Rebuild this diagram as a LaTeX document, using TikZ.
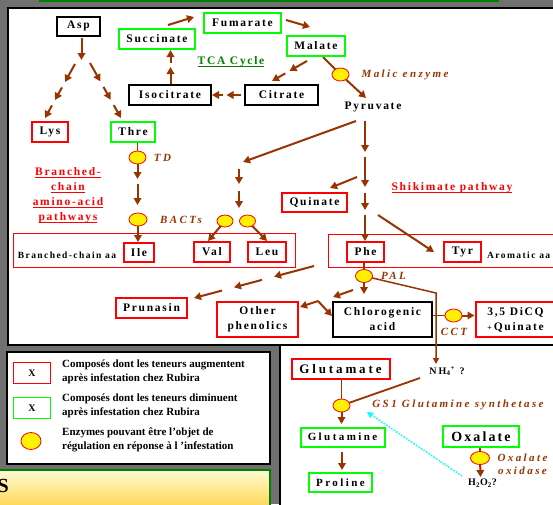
\documentclass[tikz,border=0pt]{standalone}
\usepackage{fontspec}
\setmainfont{Liberation Serif}
\newfontfamily\lsA[LetterSpace=15]{Liberation Serif}
\newfontfamily\lsB[LetterSpace=22]{Liberation Serif}
\usetikzlibrary{arrows.meta,shapes.geometric,calc}
\pgfdeclarelayer{back}
\pgfdeclarelayer{mid}
\pgfsetlayers{back,mid,main}
\definecolor{brn}{HTML}{993300}
\definecolor{pred}{HTML}{FF0000}
\definecolor{pgreen}{HTML}{00FF00}
\definecolor{dgreen}{HTML}{008000}
\definecolor{bgc}{RGB}{112,112,112}
\definecolor{ytop}{HTML}{FFFBD2}
\definecolor{ybot}{HTML}{FFC82A}
\definecolor{cyn}{HTML}{00FFFF}
\newcommand\myul[1]{\setbox0\hbox{#1}\rlap{\rule[-2.4pt]{\wd0}{1.2pt}}\box0}
\newcommand\multiarrow[4]{%
  \foreach \k in {1,...,#3}{%
    \pgfmathsetmacro\mafrA{(\k-1)/#3+(\k>1)*#4}%
    \pgfmathsetmacro\mafrB{\k/#3}%
    \draw[arr] ($(#1)!\mafrA!(#2)$) -- ($(#1)!\mafrB!(#2)$);}}
\begin{document}
\begin{tikzpicture}[x=1pt,y=-1pt,
  box/.style={draw, line width=2pt, fill=white, inner sep=0pt, minimum height=20pt, align=center,
    font=\lsA\bfseries\fontsize{11.5}{15}\selectfont},
  rbox/.style={box, draw=pred},
  gbox/.style={box, draw=pgreen},
  kbox/.style={box, draw=black},
  enz/.style={ellipse, draw=pred, fill=yellow, line width=0.8pt, minimum width=17pt, minimum height=13pt, inner sep=0pt},
  elab/.style={text=brn, inner sep=0pt, align=center, font=\lsB\bfseries\itshape\fontsize{11}{12.5}\selectfont},
  arr/.style={draw=brn, line width=2pt, -{Triangle[length=7pt,width=7.5pt]}},
  ln/.style={draw=brn, line width=1.8pt},
  cont/.style={draw=pred, line width=1pt},
  small/.style={inner sep=0pt, font=\lsA\bfseries\fontsize{9.5}{11}\selectfont},
  plain/.style={inner sep=0pt, font=\lsA\bfseries\fontsize{11.5}{14}\selectfont},
  hdr/.style={inner sep=0pt, align=center, font=\lsA\bfseries\fontsize{11.5}{15}\selectfont},
  leg/.style={inner sep=0pt, align=left, anchor=west, font=\bfseries\fontsize{11}{14}\selectfont},
  legbox/.style={line width=1.5pt, minimum width=37pt, minimum height=21pt, inner sep=0pt, fill=white, font=\bfseries\fontsize{10}{10}\selectfont}
]
\useasboundingbox (0,0) rectangle (553,504);
\begin{pgfonlayer}{back}
\fill[bgc] (0,0) rectangle (553,504);
\draw[dgreen,line width=1.5pt,fill=bgc!80!white] (40,-10) rectangle (498,1);
\draw[line width=1.5pt,fill=white] (8,8) rectangle (570,345);
\draw[line width=1.5pt,fill=white] (280,345) rectangle (570,520);
\draw[line width=1.2pt,fill=white] (7,352) rectangle (270,464);
\shade[top color=ytop,bottom color=ybot] (-5,470) rectangle (270,520);
\draw[dgreen,line width=1.5pt] (-5,470) rectangle (270,520);
\end{pgfonlayer}

% ---------- nodes ----------
\node[kbox,minimum width=43pt,minimum height=19pt] (asp) at (78.5,26) {Asp};
\node[gbox,minimum width=76pt] (succ) at (157,39) {Succinate};
\node[gbox,minimum width=77pt] (fum) at (242.5,23) {Fumarate};
\node[gbox,minimum width=58pt] (mal) at (316,46) {Malate};
\node[kbox,minimum width=82pt] (iso) at (170,95) {Isocitrate};
\node[kbox,minimum width=73pt] (cit) at (281.5,95) {Citrate};
\node[hdr,text=dgreen] (tca) at (231,62) {\myul{TCA Cycle}};
\node[plain] (pyr) at (373,107) {Pyruvate};
\node[enz] (me) at (340.5,74.5) {};
\node[elab] (mel) at (405,75) {Malic enzyme};

\node[rbox,minimum width=36pt] (lys) at (50,132) {Lys};
\node[gbox,minimum width=44pt] (thre) at (133,132) {Thre};
\node[hdr,text=pred] (bcp) at (68,195.5) {\myul{Branched-}\\\myul{chain}\\\myul{amino-acid}\\\myul{pathways}};
\node[enz] (td) at (137.5,157.5) {};
\node[elab] (tdl) at (162.5,157.5) {TD};
\node[enz,minimum width=18pt] (bact) at (138,219.5) {};
\node[elab] (bactl) at (181,220) {BACTs};
\node[enz,minimum width=16pt,minimum height=12pt] (ev) at (225,221) {};
\node[enz,minimum width=16pt,minimum height=12pt] (el) at (247.5,221) {};

\node[small] (bca) at (67,255) {Branched-chain aa};
\node[rbox,minimum width=30pt,minimum height=19pt] (ile) at (139,252.5) {Ile};
\node[rbox,minimum width=36pt] (val) at (212,252) {Val};
\node[rbox,minimum width=38pt] (leu) at (267,252) {Leu};
\node[rbox,minimum width=65pt,minimum height=19pt] (qui) at (314.5,202) {Quinate};
\node[hdr,text=pred] (shik) at (452,188) {\myul{Shikimate pathway}};
\node[rbox,minimum width=37pt] (phe) at (365.5,252) {Phe};
\node[rbox,minimum width=37pt] (tyr) at (462.5,252) {Tyr};
\node[small,anchor=west] (aro) at (487,255) {Aromatic aa};

\node[enz] (pal) at (364,276) {};
\node[elab] (pall) at (393.5,276) {PAL};
\node[rbox,minimum width=71pt] (pru) at (151.5,308) {Prunasin};
\node[rbox,minimum width=81pt,minimum height=35pt] (oth) at (257.5,319.5) {Other\\phenolics};
\node[kbox,minimum width=99pt,minimum height=35pt] (chl) at (382.5,319.5) {Chlorogenic\\acid};
\node[enz] (cct) at (453.5,315.5) {};
\node[elab] (cctl) at (454,332) {CCT};
\node[rbox,minimum width=80pt,minimum height=35pt] (dicq) at (515.5,319.5) {3,5 DiCQ\\{\fontsize{8}{8}\selectfont +}\,Quinate};

% lower right panel
\node[rbox,minimum width=98pt,font=\lsB\bfseries\fontsize{13}{15}\selectfont] (glu) at (340.5,369) {Glutamate};
\node[small,font=\lsB\bfseries\fontsize{10}{11}\selectfont] (nh) at (447,371) {NH\textsubscript{4}\textsuperscript{+} ?};
\node[enz] (gs) at (341.5,405.5) {};
\node[elab] (gsl) at (458,405) {GS1 Glutamine synthetase};
\node[gbox,minimum width=84pt,minimum height=19pt,font=\lsB\bfseries\fontsize{11}{13}\selectfont] (gln) at (342.5,437) {Glutamine};
\node[gbox,minimum width=63pt,minimum height=19pt,font=\lsB\bfseries\fontsize{11}{13}\selectfont] (pro) at (340.5,482.5) {Proline};
\node[gbox,minimum width=76pt,minimum height=21pt,font=\lsA\bfseries\fontsize{14}{16}\selectfont] (oxa) at (481,436.5) {Oxalate};
\node[enz,minimum width=19pt] (ox) at (480,458) {};
\node[elab] (oxl) at (522.5,464) {Oxalate\\oxidase};
\node[small,font=\lsB\bfseries\fontsize{10}{11}\selectfont] (h2o2) at (482.5,483) {H\textsubscript{2}O\textsubscript{2}?};

% legend
\node[legbox,draw=pred] (lr) at (32,373) {X};
\node[legbox,draw=pgreen] (lg) at (32,408) {X};
\node[enz,minimum width=20pt,minimum height=17pt] (lo) at (31,441) {};
\node[leg] (lt1) at (62,371.5) {Composés dont les teneurs augmentent\\après infestation chez Rubira};
\node[leg] (lt2) at (62,405.5) {Composés dont les teneurs diminuent\\après infestation chez Rubira};
\node[leg] (lt3) at (62,439.5) {Enzymes pouvant être l’objet de\\régulation en réponse à l ’infestation};
\node[inner sep=0pt,anchor=east,font=\bfseries\fontsize{20}{20}\selectfont] (ss) at (9,486) {S};

% ---------- coordinates ----------
\coordinate (t1a) at (168,25);  \coordinate (t1b) at (194,17);
\coordinate (t2a) at (286,20);  \coordinate (t2b) at (310,27);
\coordinate (m1) at (307,61);   \coordinate (m2) at (272,81);
\coordinate (c1) at (241,95);   \coordinate (c2) at (212,95);
\coordinate (i1) at (170.5,84); \coordinate (i2) at (170.5,50);
\coordinate (mst) at (323,57);  \coordinate (mend) at (366,98);
\coordinate (a1) at (81.5,38);  \coordinate (a2) at (81.5,60);
\coordinate (l1) at (75,64);    \coordinate (l2) at (45,118);
\coordinate (r1) at (90,63);    \coordinate (r2) at (121,118);
\coordinate (tdA) at (137.5,179); \coordinate (tdB) at (137.5,184); \coordinate (tdC) at (137.5,205);
\coordinate (p1) at (356,121);  \coordinate (p2) at (243,162);
\coordinate (p3) at (239,169);  \coordinate (p4) at (239,184);
\coordinate (p5) at (239,191);  \coordinate (p6) at (239,208);
\coordinate (vE) at (208,241);  \coordinate (lE) at (267,241);
\coordinate (d0) at (365,121);  \coordinate (d1) at (365,152);
\coordinate (d2) at (365,157);  \coordinate (d3) at (365,187);
\coordinate (d4) at (365,193);  \coordinate (d5) at (365,210);
\coordinate (d6) at (365,215);
\coordinate (q1) at (357,177);  \coordinate (q2) at (330,188);
\coordinate (y1) at (378,215);  \coordinate (y2) at (434,252);
\coordinate (pd) at (364,294);
\coordinate (nbend) at (436,293); \coordinate (nend) at (436,364);
\coordinate (o1) at (353,290);  \coordinate (o2) at (333,297);
\coordinate (b0) at (318,301);  \coordinate (bo) at (300,307); \coordinate (bc) at (332,316);
\coordinate (pr1) at (314,266); \coordinate (pr2) at (194,298);
\coordinate (gsd) at (341.5,424);
\coordinate (nhs) at (420,378);
\coordinate (gp1) at (342,452); \coordinate (gp2) at (342,470);
\coordinate (oxd) at (480.5,477);
\coordinate (cy1) at (462,476); \coordinate (cy2) at (367,412);

% ---------- connectors ----------
\begin{pgfonlayer}{mid}
\draw[cont] (13,233) rectangle (295,267);
\draw[cont] (328,234) rectangle (570,267);

\draw[arr] (t1a) -- (t1b);
\draw[arr] (t2a) -- (t2b);
\multiarrow{m1}{m2}{2}{0.12}
\multiarrow{c1}{c2}{2}{0.12}
\multiarrow{i1}{i2}{2}{0.12}
\draw[ln] (mst) -- (me.center);
\draw[arr] (me.center) -- (mend);

\draw[arr] (a1) -- (a2);
\multiarrow{l1}{l2}{3}{0.1}
\multiarrow{r1}{r2}{3}{0.1}

\draw[ln] (thre.south -| td) -- (td.center);
\draw[arr] (td.center) -- (tdA);
\draw[arr] (tdB) -- (tdC);
\draw[arr] (bact.center) -- (bact |- ile.north);

\draw[arr] (p1) -- (p2);
\draw[arr] (p3) -- (p4);
\draw[arr] (p5) -- (p6);
\draw[arr] (ev.center) -- (vE);
\draw[arr] (el.center) -- (lE);

\draw[arr] (d0) -- (d1);
\draw[arr] (d2) -- (d3);
\draw[arr] (d4) -- (d5);
\draw[arr] (d6) -- (d6 |- phe.north);
\draw[arr] (q1) -- (q2);
\draw[arr] (y1) -- (y2);

\draw[ln] (phe.south -| pal) -- (pal.center);
\draw[arr] (pal.center) -- (pd);
\draw[brn,line width=1.5pt,-{Triangle[length=6pt,width=6pt]}] (pal.center) -- (nbend) -- (nend);
\draw[arr] (o1) -- (o2);
\draw[arr] (b0) -- (bo);
\draw[arr] (b0) -- (bc);
\multiarrow{pr1}{pr2}{3}{0.1}

\draw[ln] (chl.east |- cct) -- (cct.center);
\draw[arr] (cct.center) -- (dicq.west |- cct);

\draw[ln] (glu.south -| gs) -- (gs.center);
\draw[arr] (gs.center) -- (gsd);
\draw[ln] (nhs) -- (gs.center);
\draw[arr] (gp1) -- (gp2);
\draw[ln] (oxa.south -| ox) -- (ox.center);
\draw[arr] (ox.center) -- (oxd);
\draw[cyn,line width=1.5pt,dash pattern=on 1.5pt off 1.5pt,-{Triangle[length=6pt,width=6pt]}] (cy1) -- (cy2);
\end{pgfonlayer}
\end{tikzpicture}
\end{document}
